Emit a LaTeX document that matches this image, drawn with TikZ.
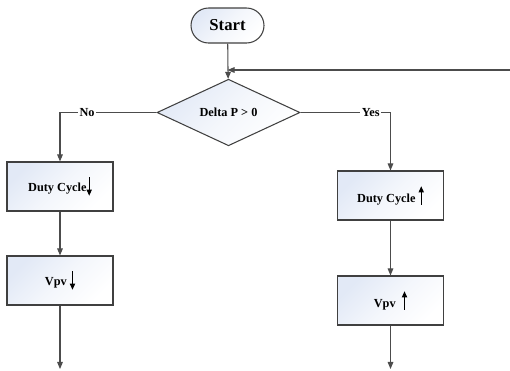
\documentclass[tikz,border=0pt]{standalone}
\usepackage{fontspec}
\setmainfont{Liberation Serif}
\usetikzlibrary{shapes.geometric,arrows.meta}

\definecolor{boxblue}{HTML}{E2E9F6}

% kleine Pfeile im Text
\newcommand{\pfeilauf}{\tikz[baseline=0pt]\draw[line width=0.6pt,-{Triangle[length=3.5pt,width=3pt]}] (0,-1.5pt) -- (0,9pt);}
\newcommand{\pfeilab}{\tikz[baseline=0pt]\draw[line width=0.6pt,-{Triangle[length=3.5pt,width=3pt]}] (0,8pt) -- (0,-2.5pt);}

\tikzset{
    block/.style={draw=black!75, line width=0.6pt, top color=boxblue, bottom color=white, middle color=white!60!boxblue,
        shading angle=45, minimum width=2.12cm, minimum height=0.98cm, inner sep=0pt,
        font=\bfseries\fontsize{7}{8}\selectfont},
    terminal/.style={block, rounded corners=0.35cm, minimum width=1.46cm, minimum height=0.7cm,
        font=\bfseries\fontsize{9.5}{11}\selectfont},
    decision/.style={block, diamond, minimum width=2.86cm, minimum height=0.98cm},
    arr/.style={draw=black!70, line width=0.6pt, -{Triangle[length=4pt,width=3.2pt]}},
    lbl/.style={fill=white, inner sep=1pt, font=\bfseries\fontsize{7}{8}\selectfont}
}

\begin{document}
\begin{tikzpicture}[x=0.02cm, y=-0.02cm]
        \useasboundingbox (0, 0) rectangle (510, 370);

        % Knoten
        \node[terminal] (start) at (227.5, 25.5) {Start};
        \node[decision] (dp) at (228.5, 112.5) {Delta P > 0};
        \node[block] (dn1) at (60, 186.5) {Duty Cycle\pfeilab};
        \node[block] (dn2) at (60, 280.5) {Vpv\ \pfeilab};
        \node[block] (up1) at (390.5, 195.5) {Duty Cycle\ \pfeilauf};
        \node[block] (up2) at (390.5, 300.5) {Vpv\ \ \pfeilauf};

        % freie Enden
        \coordinate (rueck) at (510, 70);
        \coordinate (linksaus) at (60, 369);
        \coordinate (rechtsaus) at (390.5, 369);

        % Start - Entscheidung
        \draw[arr] (start) -- (dp);
        \draw[arr] (rueck) -- (rueck -| start.south);

        % Zweige
        \draw[arr] (dp.west) -- node[lbl, pos=0.72] {No} (dp.west -| dn1) -- (dn1);
        \draw[arr] (dp.east) -- node[lbl, pos=0.78] {Yes} (dp.east -| up1) -- (up1);

        % linke Spalte
        \draw[arr] (dn1) -- (dn2);
        \draw[arr] (dn2) -- (linksaus);

        % rechte Spalte
        \draw[arr] (up1) -- (up2);
        \draw[arr] (up2) -- (rechtsaus);

    \end{tikzpicture}
\end{document}
